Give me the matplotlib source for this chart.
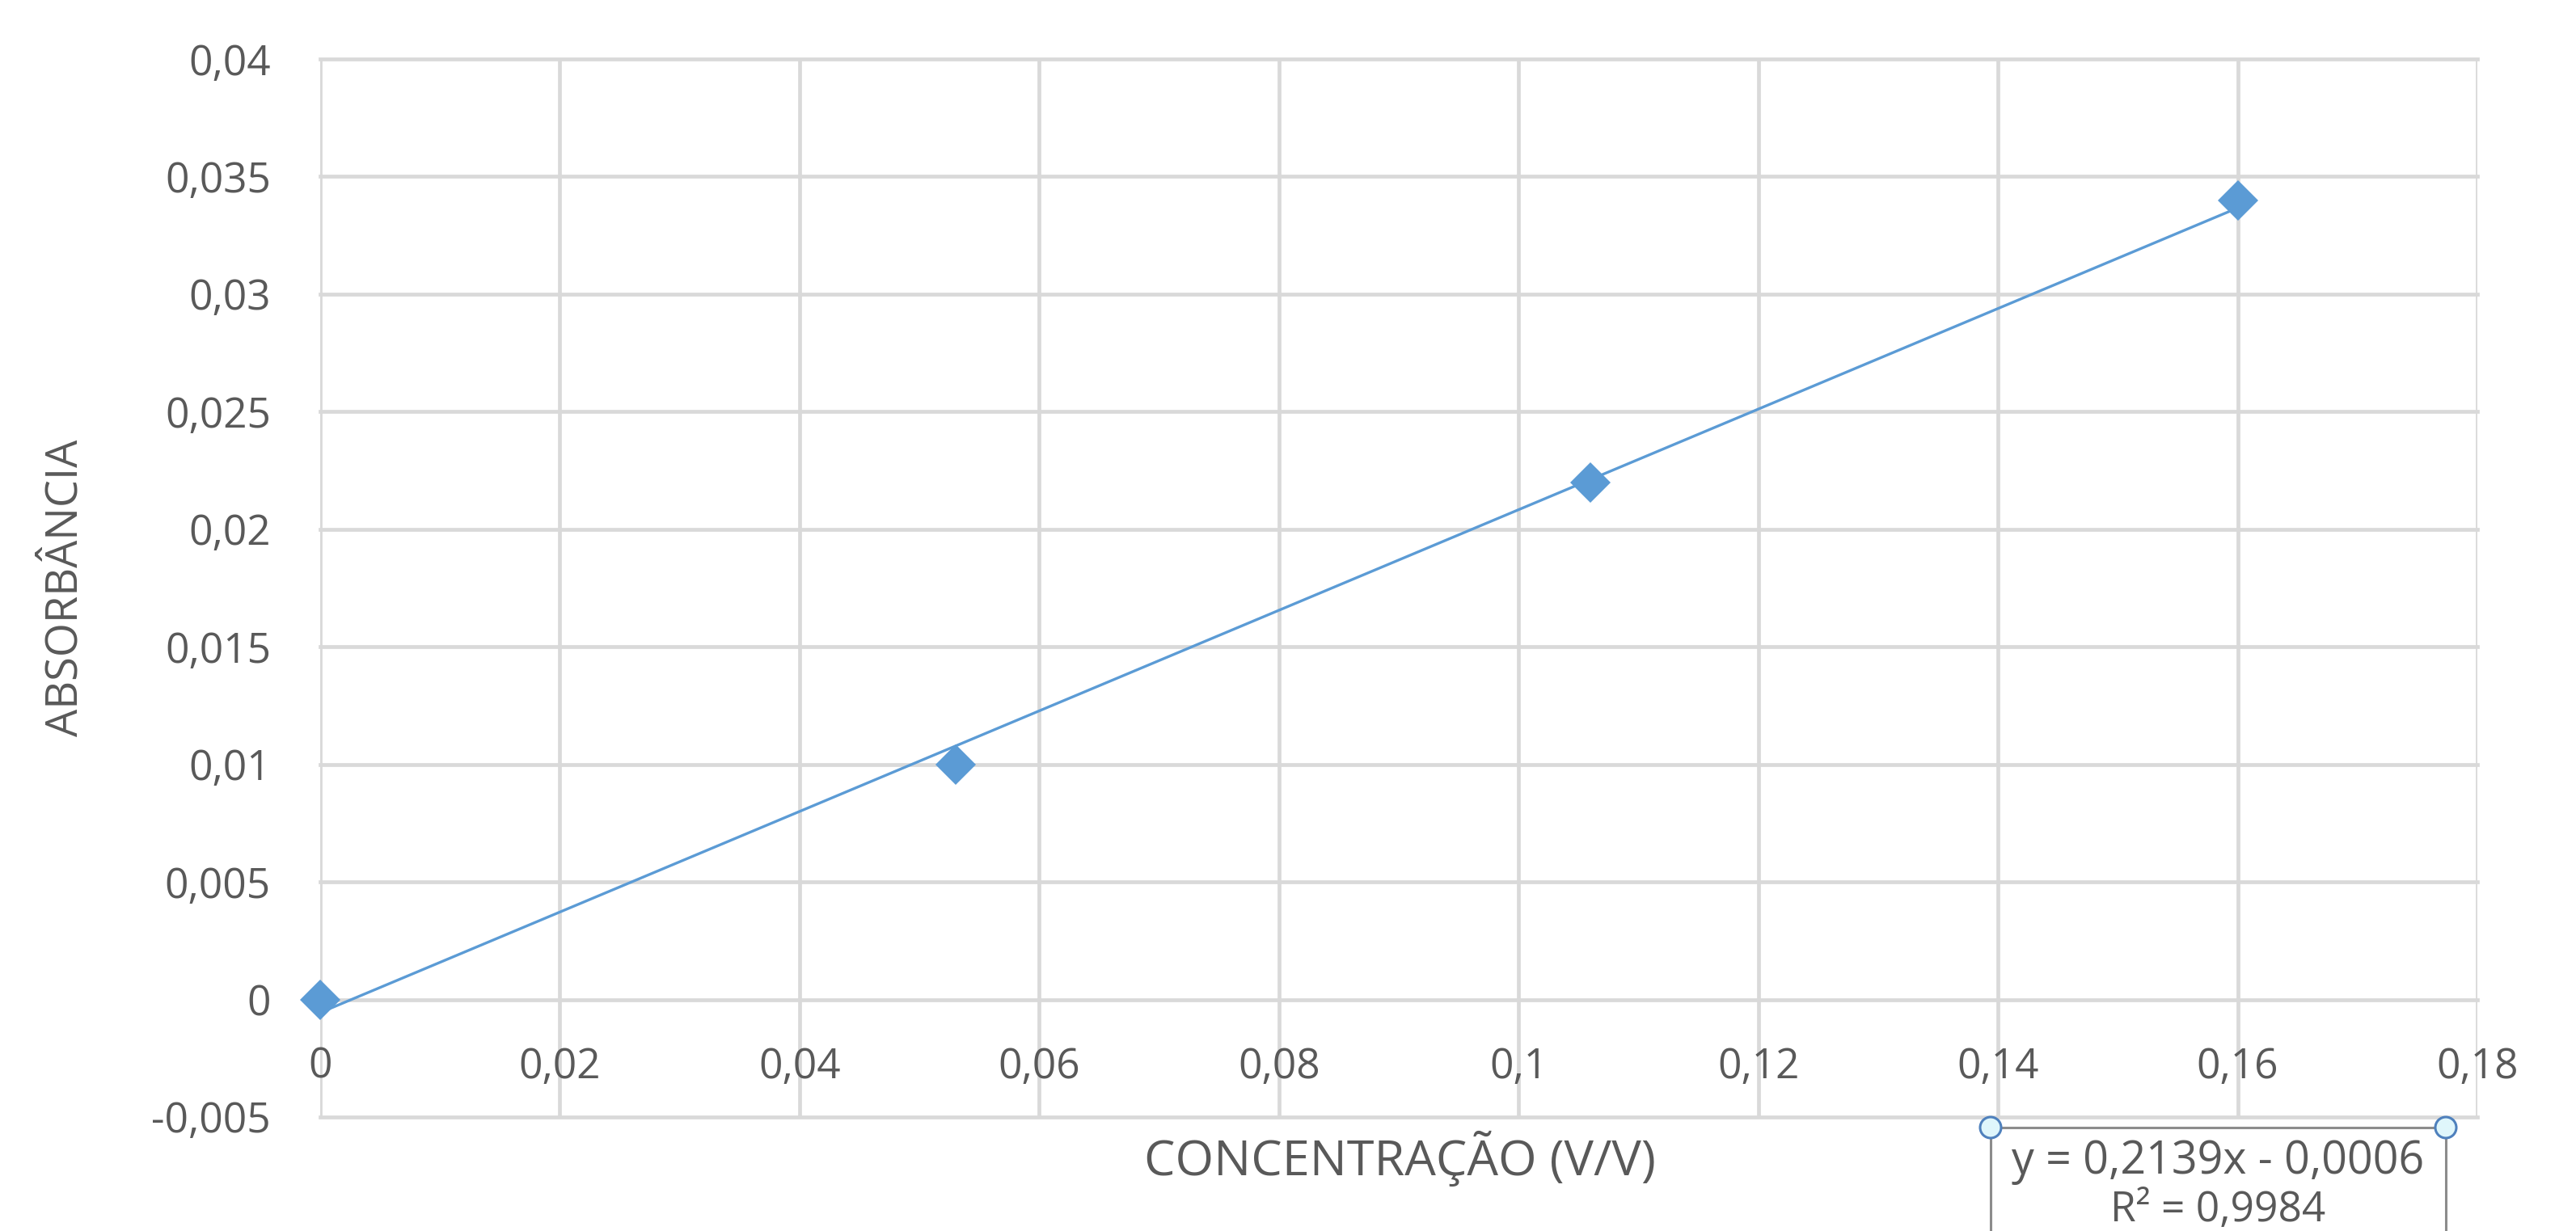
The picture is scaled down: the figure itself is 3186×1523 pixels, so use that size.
import matplotlib
matplotlib.use("Agg")
import matplotlib.pyplot as plt
from matplotlib.patches import Ellipse
from matplotlib.lines import Line2D
import numpy as np

# ---- data ----
concentracao = [0.0, 0.053, 0.106, 0.16]
absorbancia = [0.0, 0.010, 0.022, 0.034]
x_ticks = [0, 0.02, 0.04, 0.06, 0.08, 0.10, 0.12, 0.14, 0.16, 0.18]
x_tick_labels = ["0", "0,02", "0,04", "0,06", "0,08", "0,1", "0,12", "0,14", "0,16", "0,18"]
y_ticks = [-0.005, 0, 0.005, 0.01, 0.015, 0.02, 0.025, 0.03, 0.035, 0.04]
y_tick_labels = ["-0,005", "0", "0,005", "0,01", "0,015", "0,02", "0,025", "0,03", "0,035", "0,04"]
eq_text = "y = 0,2139x - 0,0006"
r2_text = "R² = 0,9984"
x_title = "CONCENTRAÇÃO (V/V)"
y_title = "ABSORBÂNCIA"

BLUE = "#5b9bd5"
GRID = "#d9d9d9"
TXT = "#595959"
FONT = ["Open Sans", "DejaVu Sans"]
plt.rcParams["font.family"] = FONT

W, H = 3186, 1523
fig = plt.figure(figsize=(W / 100, H / 100), dpi=100)
ax = fig.add_axes([396 / W, 1 - 1382 / H, (3064 - 396) / W, (1382 - 73) / H])

ax.set_xlim(0, 0.18)
ax.set_ylim(-0.005, 0.04)
ax.set_xticks(x_ticks)
ax.set_xticklabels(x_tick_labels)
ax.set_yticks(y_ticks)
ax.set_yticklabels(y_tick_labels)
ax.tick_params(axis="both", length=0, labelsize=37, labelcolor=TXT)
ax.tick_params(axis="y", pad=44)
ax.tick_params(axis="x", pad=42)

ax.grid(True, color=GRID, linewidth=3.4)
ax.set_axisbelow(True)
for ln in ax.get_xgridlines() + ax.get_ygridlines():
    ln.set_clip_on(False)
for s in ax.spines.values():
    s.set_visible(False)
ax.spines["bottom"].set_position(("data", 0))

# trendline (linear fit over data range)
coef = np.polyfit(concentracao, absorbancia, 1)
xs = np.array([min(concentracao), max(concentracao)])
ax.plot(xs, np.polyval(coef, xs), color=BLUE, linewidth=2.4, zorder=3)
ax.plot(concentracao, absorbancia, linestyle="none", marker="D", markersize=25,
        color=BLUE, markeredgewidth=0, zorder=4, clip_on=False)

fig.text(852 * 2.032 / W, 1 - 1433 / H, x_title, ha="center", va="center",
         fontsize=44, color=TXT)
fig.text(40 * 2.032 / W, 1 - 358 * 2.032 / H, y_title, ha="center", va="center",
         rotation=90, fontsize=39, color=TXT)

# trendline label box (extends past bottom of image)
L, R, T = 2462, 3025, 1395
B = H + 60
for xa, ya in [((L, R), (T, T)), ((L, L), (T, B)), ((R, R), (T, B))]:
    fig.add_artist(Line2D([xa[0] / W, xa[1] / W], [1 - ya[0] / H, 1 - ya[1] / H],
                          color="#8c8c8c", linewidth=2.2, clip_on=False))
for cx in (L, R):
    fig.add_artist(Ellipse((cx / W, 1 - T / H), 26 / W, 26 / H, facecolor="#dff6fb",
                           edgecolor="#4f81bd", linewidth=2.2, zorder=5))
fig.text((L + R) / 2 / W, 1 - 1437 / H, eq_text, ha="center", va="center",
         fontsize=40, color=TXT)
fig.text((L + R) / 2 / W, 1 - 1497 / H, r2_text, ha="center", va="center",
         fontsize=37, color=TXT)

fig.savefig("out.png", dpi=100, facecolor="white")
